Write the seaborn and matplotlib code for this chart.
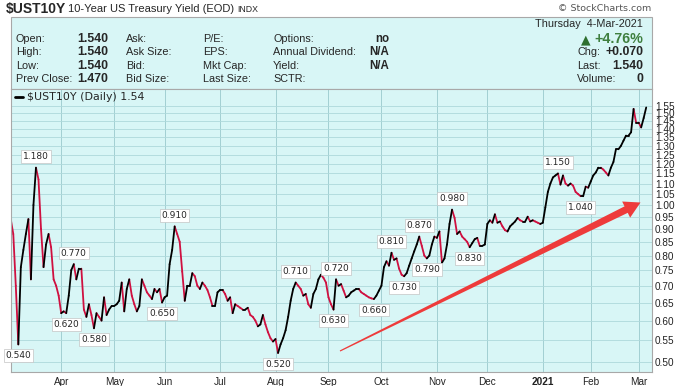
import numpy as np
import pandas as pd
import matplotlib
matplotlib.use("Agg")
import matplotlib.pyplot as plt
import seaborn as sns
from matplotlib.patches import Polygon, Rectangle
from matplotlib.lines import Line2D
from matplotlib.ticker import NullLocator

# trading sessions on the chart (market holidays left out)
holidays = ["2020-04-10", "2020-05-25", "2020-07-03", "2020-09-07", "2020-11-26",
            "2020-12-25", "2021-01-01", "2021-01-18", "2021-02-15"]
dates = pd.bdate_range("2020-03-04", "2021-03-04", freq="C", holidays=holidays)

# daily closing yield (%)
mar20 = [0.94, 0.88, 0.70, 0.54, 0.76, 0.82, 0.88, 0.94, 0.72, 1.00, 1.18, 1.12, 0.90, 0.76,
         0.84, 0.88, 0.83, 0.72, 0.70, 0.67]
apr20 = [0.62, 0.625, 0.62, 0.67, 0.75, 0.77, 0.72, 0.755, 0.755, 0.63, 0.61, 0.645, 0.615,
         0.58, 0.62, 0.61, 0.60, 0.665, 0.615, 0.63, 0.64]
may20 = [0.64, 0.645, 0.655, 0.71, 0.625, 0.69, 0.72, 0.67, 0.645, 0.625, 0.64, 0.72, 0.70,
         0.68, 0.67, 0.66, 0.69, 0.68, 0.69, 0.65]
jun20 = [0.665, 0.67, 0.77, 0.82, 0.91, 0.88, 0.85, 0.745, 0.655, 0.70, 0.70, 0.74, 0.73,
         0.70, 0.69, 0.71, 0.70, 0.687, 0.665, 0.64, 0.64, 0.68]
jul20 = [0.687, 0.687, 0.675, 0.655, 0.665, 0.62, 0.645, 0.64, 0.635, 0.63, 0.63, 0.635,
         0.615, 0.61, 0.60, 0.585, 0.59, 0.615, 0.59, 0.57, 0.555, 0.547]
aug20 = [0.553, 0.52, 0.54, 0.555, 0.575, 0.61, 0.655, 0.69, 0.71, 0.70, 0.69, 0.67, 0.675,
         0.645, 0.635, 0.675, 0.69, 0.72, 0.735, 0.725, 0.71]
sep20 = [0.665, 0.645, 0.63, 0.72, 0.70, 0.705, 0.685, 0.665, 0.67, 0.68, 0.685, 0.69, 0.69,
         0.68, 0.675, 0.67, 0.665, 0.662, 0.66, 0.67, 0.685]
oct20 = [0.70, 0.76, 0.78, 0.765, 0.81, 0.785, 0.79, 0.755, 0.735, 0.73, 0.74, 0.765, 0.79,
         0.815, 0.84, 0.87, 0.835, 0.80, 0.79, 0.80, 0.84, 0.87]
nov20 = [0.865, 0.89, 0.775, 0.79, 0.84, 0.92, 0.98, 0.945, 0.88, 0.89, 0.87, 0.86, 0.85,
         0.83, 0.845, 0.86, 0.865, 0.835, 0.835, 0.84]
dec20 = [0.92, 0.935, 0.925, 0.96, 0.925, 0.93, 0.91, 0.895, 0.89, 0.91, 0.92, 0.93, 0.945,
         0.935, 0.93, 0.93, 0.95, 0.93, 0.935, 0.93, 0.925, 0.92]
jan21 = [0.925, 0.99, 1.06, 1.10, 1.13, 1.14, 1.15, 1.095, 1.14, 1.10, 1.09, 1.10, 1.09,
         1.06, 1.05, 1.04, 1.04, 1.085, 1.08]
feb21 = [1.11, 1.14, 1.155, 1.18, 1.18, 1.17, 1.155, 1.14, 1.18, 1.21, 1.28, 1.28, 1.30,
         1.33, 1.36, 1.36, 1.38, 1.53, 1.44]
mar21 = [1.44, 1.41, 1.47, 1.54]

yields = mar20 + apr20 + may20 + jun20 + jul20 + aug20 + sep20 + oct20 + nov20 + dec20 + jan21 + feb21 + mar21
if len(yields) != len(dates):
    raise ValueError(f"{len(yields)} values for {len(dates)} dates")

# swing high / low labels
peak_dates = ["2020-03-18", "2020-04-08", "2020-06-05", "2020-08-13", "2020-09-04",
              "2020-10-07", "2020-10-22", "2020-11-10", "2021-01-12"]
trough_dates = ["2020-03-09", "2020-04-03", "2020-04-21", "2020-05-29", "2020-08-04",
                "2020-09-03", "2020-09-28", "2020-10-14", "2020-10-27", "2020-11-19", "2021-01-26"]

yticks = [0.50, 0.55, 0.60, 0.65, 0.70, 0.75, 0.80, 0.85, 0.90, 0.95, 1.00, 1.05, 1.10,
          1.15, 1.20, 1.25, 1.30, 1.35, 1.40, 1.45, 1.50, 1.55]

df = pd.DataFrame({"date": dates, "close": yields})
df["n"] = np.arange(len(df))

# one two-point piece per session so rising and falling days get their own colour
seg = pd.DataFrame({
    "x": np.concatenate([df["n"].values[:-1], df["n"].values[1:]]),
    "y": np.concatenate([df["close"].values[:-1], df["close"].values[1:]]),
    "piece": np.tile(np.arange(len(df) - 1), 2),
})
move = np.where(np.diff(df["close"].values) < 0, "down", "up")
seg["move"] = np.tile(move, 2)
seg = seg.sort_values(["piece", "x"])

W, H = 687, 386
BG = "#d8f6f6"
GRID = "#aed9db"


def P(x, y):
    return (x / W, 1 - y / H)


sns.set_style("white")
plt.rcParams["font.family"] = ["Liberation Sans", "DejaVu Sans"]

fig = plt.figure(figsize=(W / 100, H / 100), dpi=100)
fig.patch.set_facecolor("white")

# header
fig.text(*P(6, 9), "$UST10Y", fontsize=10, fontweight="bold", va="center", ha="left")
fig.text(*P(68, 9.5), "10-Year US Treasury Yield (EOD)", fontsize=8, va="center", ha="left")
fig.text(*P(237, 10), "INDX", fontsize=6.3, va="center", ha="left")
fig.text(*P(651, 8.5), "\u00a9 StockCharts.com", fontsize=6.8, color="#555555", va="center", ha="right",
         family=["DejaVu Sans"])

# quote panel
x0, x1 = P(10.5, 0)[0], P(651.5, 0)[0]
y_top, y_bot = P(0, 17.3)[1], P(0, 89)[1]
fig.add_artist(Rectangle((x0, y_bot), x1 - x0, y_top - y_bot, transform=fig.transFigure,
                         facecolor=BG, edgecolor="#a8a8a8", lw=0.8, zorder=0))

rows_y = [39.3, 52.3, 65.7, 79.3]
col_labels = [
    (16, ["Open:", "High:", "Low:", "Prev Close:"]),
    (126, ["Ask:", "Ask Size:", "Bid:", "Bid Size:"]),
    (203, ["P/E:", "EPS:", "Mkt Cap:", "Last Size:"]),
    (273, ["Options:", "Annual Dividend:", "Yield:", "SCTR:"]),
]
col_values = [
    (108, ["1.540", "1.540", "1.540", "1.470"], 8.8),
    (389, ["no", "N/A", "N/A", ""], 8.3),
]
for x, labels in col_labels:
    for y, t in zip(rows_y, labels):
        fig.text(*P(x, y), t, fontsize=7.8, va="center", ha="left")
for x, vals, fs in col_values:
    for y, t in zip(rows_y, vals):
        fig.text(*P(x, y), t, fontsize=fs, fontweight="bold", va="center", ha="right")

fig.text(*P(643, 24.3), "Thursday  4-Mar-2021", fontsize=7.8, va="center", ha="right")
fig.text(*P(643, 39.3), "+4.76%", fontsize=10.3, fontweight="bold", color="#3f7f3f",
         va="center", ha="right")
fig.text(*P(591, 39.8), "\u25b2", fontsize=9, color="#2f6f2f", va="center", ha="right",
         family=["DejaVu Sans"])
for y, lab, val in zip(rows_y[1:], ["Chg:", "Last:", "Volume:"], ["+0.070", "1.540", "0"]):
    fig.text(*P(577, y), lab, fontsize=7.8, va="center", ha="left")
    fig.text(*P(643, y), val, fontsize=8.8, fontweight="bold", va="center", ha="right")

# price panel
ax = fig.add_axes([x0, P(0, 372)[1], x1 - x0, P(0, 89)[1] - P(0, 372)[1]])
ax.set_facecolor(BG)

sns.lineplot(data=seg, x="x", y="y", hue="move", units="piece", estimator=None, sort=False,
             palette={"up": "black", "down": "#cf1040"}, lw=1.3, legend=False, ax=ax,
             solid_capstyle="round")

ax.set_yscale("log")
ax.set_ylim(0.478, 1.671)
ax.set_xlim(-0.1, 254.1)
ax.yaxis.set_minor_locator(NullLocator())
ax.set_yticks(yticks)
ax.set_yticklabels([f"{t:.2f}" for t in yticks])
ax.yaxis.tick_right()

firsts = df.groupby([df["date"].dt.year, df["date"].dt.month])["n"].first().iloc[1:]
mlabels = [d.strftime("%b") if d.month != 1 else str(d.year) for d in df.loc[firsts.values, "date"]]
ax.set_xticks(firsts.values)
ax.set_xticklabels(mlabels)
for t in ax.get_xticklabels():
    if t.get_text() == "2021":
        t.set_fontweight("bold")

ax.tick_params(axis="x", length=0, pad=3.5, labelsize=7.2, colors="#222222")
ax.tick_params(axis="y", length=0, pad=2.5, labelsize=7.2, colors="#222222")
ax.grid(True, axis="y", color=GRID, lw=0.6)
ax.grid(True, axis="x", color="#a2cfd2", lw=0.7)
ax.set_axisbelow(True)
ax.set_xlabel("")
ax.set_ylabel("")
for s in ax.spines.values():
    s.set_color("#a8a8a8")
    s.set_linewidth(0.8)

# swing labels
lab_style = dict(textcoords="offset points", ha="center", va="center", fontsize=6.5,
                 family=["DejaVu Sans"], annotation_clip=False, zorder=5,
                 bbox=dict(boxstyle="square,pad=0.2", fc="white", ec="#c4c4c4", lw=0.5))
for d in peak_dates:
    r = df[df["date"] == pd.Timestamp(d)].iloc[0]
    ax.annotate(f"{r['close']:.3f}", xy=(r["n"], r["close"]), xytext=(0, 8), **lab_style)
for d in trough_dates:
    r = df[df["date"] == pd.Timestamp(d)].iloc[0]
    ax.annotate(f"{r['close']:.3f}", xy=(r["n"], r["close"]), xytext=(0, -8), **lab_style)

# legend line
fig.add_artist(Line2D([P(15, 0)[0], P(23, 0)[0]], [P(0, 96.7)[1]] * 2, color="black", lw=2,
                      transform=fig.transFigure))
fig.text(*P(27, 96.7), "$UST10Y (Daily) 1.54", fontsize=7.9, va="center", ha="left",
         family=["DejaVu Sans"])

# red trend arrow drawn on top of the panel
tail = np.array([340.0, 351.0])
tip = np.array([640.5, 202.5])
u = (tip - tail) / np.linalg.norm(tip - tail)
nrm = np.array([-u[1], u[0]])
base = tip - 16 * u
pts = [tail + 0.6 * nrm, base + 3.6 * nrm, base + 9.0 * nrm, tip,
       base - 9.0 * nrm, base - 3.6 * nrm, tail - 0.6 * nrm]
fig.add_artist(Polygon([P(*p) for p in pts], closed=True, transform=fig.transFigure,
                       facecolor="#ee3b3b", edgecolor="none", zorder=6))

fig.savefig("out.png", dpi=100)
